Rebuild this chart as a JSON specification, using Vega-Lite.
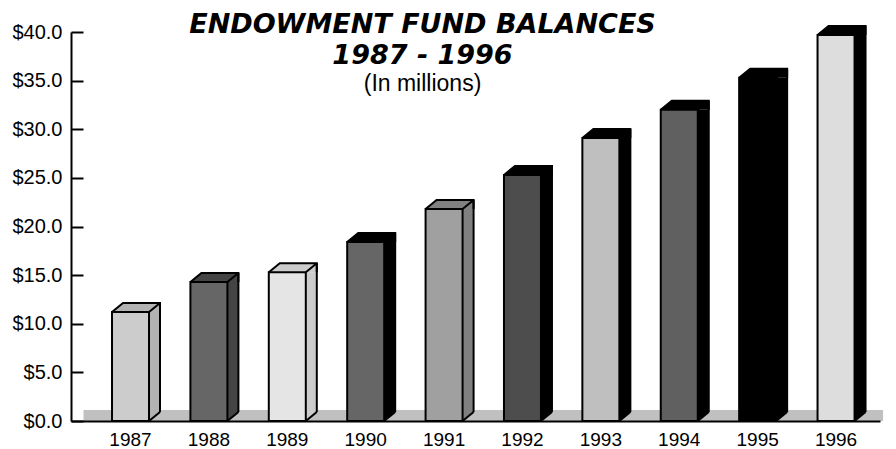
{
  "$schema": "https://vega.github.io/schema/vega-lite/v6.json",
  "autosize": {"type": "none"},
  "padding": {"left": 71, "top": 32, "right": 16, "bottom": 28},
  "width": 809,
  "height": 389,
  "background": "white",
  "config": {"view": {"stroke": null}},
  "title": {
    "text": ["ENDOWMENT FUND BALANCES", "1987 - 1996"],
    "subtitle": "(In millions)",
    "anchor": "middle",
    "frame": "group",
    "dx": -53,
    "offset": -75,
    "font": "DejaVu Sans",
    "fontSize": 27,
    "fontWeight": "bold",
    "fontStyle": "italic",
    "lineHeight": 31,
    "color": "black",
    "subtitleFont": "Liberation Sans",
    "subtitleFontSize": 23,
    "subtitleColor": "black",
    "subtitlePadding": 3
  },
  "data": {
    "values": [
      {"year": "1987", "balance": 11.2},
      {"year": "1988", "balance": 14.3},
      {"year": "1989", "balance": 15.3},
      {"year": "1990", "balance": 18.4},
      {"year": "1991", "balance": 21.8},
      {"year": "1992", "balance": 25.3},
      {"year": "1993", "balance": 29.1},
      {"year": "1994", "balance": 32.0},
      {"year": "1995", "balance": 35.3},
      {"year": "1996", "balance": 39.7}
    ]
  },
  "encoding": {
    "x": {
      "field": "year", "type": "ordinal", "title": null,
      "scale": {"paddingInner": 0, "paddingOuter": 0.16, "align": 0.81},
      "axis": {"labelAngle": 0, "ticks": false, "labelPadding": 9, "labelFont": "Liberation Sans", "labelFontSize": 19, "labelColor": "black", "domainColor": "black", "domainWidth": 2, "zindex": 1}
    }
  },
  "layer": [
    {
      "mark": {"type": "bar", "width": {"band": 1.2}, "color": "#c0c0c0"},
      "encoding": {"y": {"datum": 0, "type": "quantitative"}, "y2": {"datum": 1.13}}
    },
    {
      "mark": {"type": "bar", "width": 11, "xOffset": 24, "y2Offset": -9, "strokeWidth": 0},
      "encoding": {
        "y": {"field": "balance", "type": "quantitative", "title": null,
          "scale": {"domain": [0, 40], "nice": false},
          "axis": {"values": [0, 5, 10, 15, 20, 25, 30, 35, 40], "format": "$.1f", "grid": false, "tickSize": -12, "tickWidth": 2, "tickColor": "black", "domainColor": "black", "domainWidth": 2, "labelPadding": 21, "labelFont": "Liberation Sans", "labelFontSize": 20, "labelColor": "black", "zindex": 1}},
        "y2": {"datum": 0},
        "color": {"field": "year", "type": "nominal", "legend": null,
          "scale": {"domain": ["1987","1988","1989","1990","1991","1992","1993","1994","1995","1996"], "range": ["#b3b3b3","#444444","#cccccc","#000000","#808080","#000000","#000000","#000000","#000000","#000000"]}}
      }
    },
    {
      "mark": {"type": "point", "shape": "M-18.5,0L29.5,0L29.5,-9L-7.5,-9Z", "size": 4, "filled": true, "opacity": 1, "strokeWidth": 0},
      "encoding": {
        "y": {"field": "balance", "type": "quantitative"},
        "color": {"field": "year", "type": "nominal", "legend": null,
          "scale": {"domain": ["1987","1988","1989","1990","1991","1992","1993","1994","1995","1996"], "range": ["#b3b3b3","#444444","#cccccc","#000000","#808080","#000000","#000000","#000000","#000000","#000000"]}}
      }
    },
    {
      "mark": {"type": "point", "shape": "M18.5,0L18.5,-9L29.5,-9Z", "size": 4, "filled": true, "opacity": 1, "strokeWidth": 0},
      "encoding": {
        "y": {"datum": 0, "type": "quantitative"},
        "color": {"field": "year", "type": "nominal", "legend": null,
          "scale": {"domain": ["1987","1988","1989","1990","1991","1992","1993","1994","1995","1996"], "range": ["#b3b3b3","#444444","#cccccc","#000000","#808080","#000000","#000000","#000000","#000000","#000000"]}}
      }
    },
    {
      "mark": {"type": "bar", "width": 37, "stroke": "black", "strokeWidth": 2},
      "encoding": {
        "y": {"field": "balance", "type": "quantitative"},
        "y2": {"datum": 0},
        "fill": {"field": "year", "type": "nominal", "legend": null,
          "scale": {"domain": ["1987","1988","1989","1990","1991","1992","1993","1994","1995","1996"], "range": ["#cccccc","#666666","#e5e5e5","#666666","#a0a0a0","#4d4d4d","#bfbfbf","#606060","#000000","#dddddd"]}}
      }
    },
    {
      "mark": {"type": "point", "shape": "M-18.5,0L-7.5,-9L29.5,-9L29.5,0M18.5,0L29.5,-9", "size": 4, "filled": false, "opacity": 1, "color": "black", "strokeWidth": 2},
      "encoding": {"y": {"field": "balance", "type": "quantitative"}}
    },
    {
      "mark": {"type": "rule", "xOffset": 29.5, "yOffset": -9, "y2Offset": -9, "color": "black", "strokeWidth": 2},
      "encoding": {"y": {"field": "balance", "type": "quantitative"}, "y2": {"datum": 0}}
    },
    {
      "mark": {"type": "point", "shape": "M18.5,0L29.5,-9", "size": 4, "filled": false, "opacity": 1, "color": "black", "strokeWidth": 2},
      "encoding": {"y": {"datum": 0, "type": "quantitative"}}
    }
  ],
  "resolve": {"scale": {"color": "independent", "fill": "independent"}}
}
